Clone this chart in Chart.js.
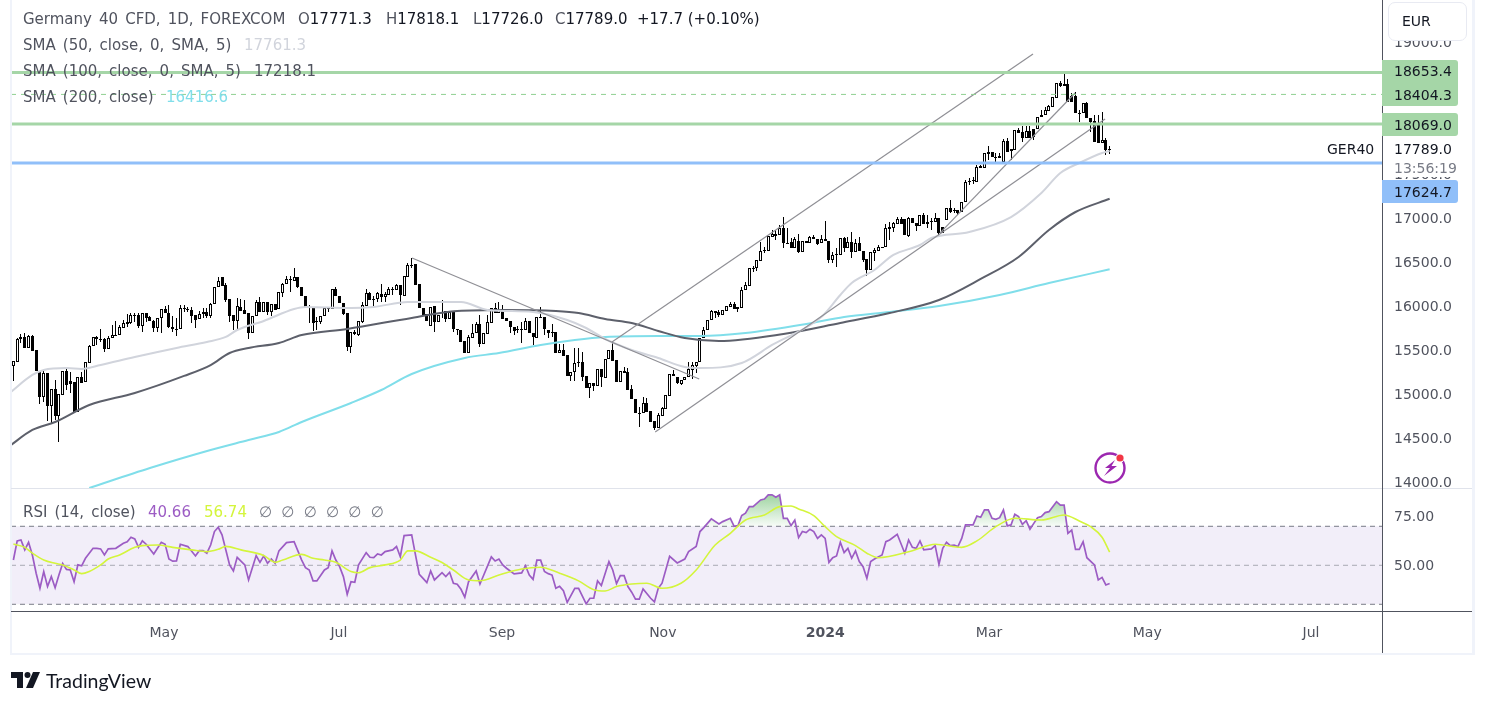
<!DOCTYPE html>
<html>
<head>
<meta charset="utf-8">
<title>Germany 40 CFD</title>
<script src="https://cdn.jsdelivr.net/npm/chart.js@4"></script>
<style>
  html, body { margin: 0; background: #fff; overflow: hidden; }
  #wrap { position: relative; width: 1487px; height: 707px; font-family: "DejaVu Sans", sans-serif; font-size: 15px; color: #50535e; }
  canvas { position: absolute; left: 0; top: 0; }
  .t { position: absolute; white-space: pre; line-height: 20px; }
  .w { word-spacing: 2.3px; }
  .v { color: #131722; }
  .rule { position: absolute; }
  .tag { position: absolute; left: 1382px; width: 76px; border-radius: 0 3px 3px 0; }
  .tagtext { position: absolute; left: 1394px; color: #131722; white-space: pre; line-height: 20px; font-size: 14px; }
</style>
</head>
<body>
<div id="wrap">
  <canvas id="c" width="1487" height="707"></canvas>

  <div class="rule" style="left:10px;top:0;width:2px;height:654px;background:#f0f3fa"></div>
  <div class="rule" style="left:1472px;top:0;width:3px;height:655px;background:#f0f3fa"></div>
  <div class="rule" style="left:10px;top:653px;width:1465px;height:2px;background:#f0f3fa"></div>
  <div class="rule" style="left:11px;top:488px;width:1461px;height:1px;background:#e0e3eb"></div>
  <div class="rule" style="left:11px;top:611px;width:1461px;height:1px;background:#50535e"></div>
  <div class="rule" style="left:1382px;top:0;width:1px;height:653px;background:#50535e"></div>

  <div class="t w" style="left:23px;top:9px">Germany 40 CFD, 1D, FOREXCOM</div>
  <div class="t" style="left:298px;top:9px">O<span class="v">17771.3</span></div>
  <div class="t" style="left:386px;top:9px">H<span class="v">17818.1</span></div>
  <div class="t" style="left:473px;top:9px">L<span class="v">17726.0</span></div>
  <div class="t" style="left:555px;top:9px">C<span class="v">17789.0</span></div>
  <div class="t v" style="left:637px;top:9px">+17.7 (+0.10%)</div>
  <div class="t w" style="left:23px;top:35px">SMA (50, close, 0, SMA, 5)</div>
  <div class="t" style="left:244px;top:35px;color:#d1d4dc">17761.3</div>
  <div class="t w" style="left:23px;top:61px">SMA (100, close, 0, SMA, 5)</div>
  <div class="t" style="left:254px;top:61px">17218.1</div>
  <div class="t w" style="left:23px;top:87px">SMA (200, close)</div>
  <div class="t" style="left:166px;top:87px;color:#80deea">16416.6</div>
  <div class="t w" style="left:23px;top:502px">RSI (14, close)</div>
  <div class="t" style="left:148px;top:502px;color:#9c5cc4">40.66</div>
  <div class="t" style="left:204px;top:502px;color:#d4f53c">56.74</div>
  <div class="t" style="left:259px;top:502px;word-spacing:4.5px;color:#787b86">∅ ∅ ∅ ∅ ∅ ∅</div>

  <div class="t" style="left:1327px;top:139px;color:#131722;font-size:14px">GER40</div>

  <div class="tag" style="top:60px;height:46px;background:#a5d6a7"></div>
  <div class="tagtext" style="top:61px">18653.4</div>
  <div class="tagtext" style="top:85px">18404.3</div>
  <div class="tag" style="top:113px;height:23px;background:#a5d6a7"></div>
  <div class="tagtext" style="top:115px">18069.0</div>
  <div class="rule" style="left:1384px;top:137px;width:86px;height:40px;background:#fff"></div>
  <div class="tagtext" style="top:139px">17789.0</div>
  <div class="tagtext" style="top:158px;color:#787b86">13:56:19</div>
  <div class="tag" style="top:180px;height:23px;background:#90bff9"></div>
  <div class="tagtext" style="top:182px">17624.7</div>

  <div class="rule" style="left:1384px;top:0;width:86px;height:36px;background:#fff"></div>
  <div class="rule" style="left:1388px;top:2px;width:77px;height:37px;background:#fff;border:1px solid #e8eaf2;border-radius:7px"></div>
  <div class="t v" style="left:1402px;top:11px;font-size:14px">EUR</div>

  <svg style="position:absolute;left:1092px;top:450px" width="38" height="36" viewBox="0 0 38 36">
    <circle cx="18" cy="18" r="14.5" fill="none" stroke="#9c27b0" stroke-width="2.4"/>
    <path d="M23 10 L13 18 L18 18 L12 26 L25 16 L19.5 16 Z" fill="#9c27b0"/>
    <circle cx="28" cy="8" r="4.5" fill="#fff"/>
    <circle cx="28" cy="8" r="3.6" fill="#f23645"/>
  </svg>

  <svg style="position:absolute;left:11px;top:672px" width="30" height="17" viewBox="0 0 30 17">
    <path d="M0 0 H12 V16 H6 V6 H0 Z" fill="#131722"/>
    <circle cx="16.5" cy="3" r="3" fill="#131722"/>
    <path d="M22 0 H29 L22 16 H15 Z" fill="#131722"/>
  </svg>
  <div class="t" style="left:46px;top:671px;font-size:19.5px;color:#131722;font-family:Lato,sans-serif">TradingView</div>
</div>

<script>
// price candles, one entry per trading day
const opens = [
  15322,15367,15621,15651,15526,15659,15500,15265,14969,15234,
  14867,15053,14753,14988,15257,15147,15140,14799,15189,15132,
  15356,15541,15644,15621,15625,15511,15632,15666,15670,15753,
  15795,15810,15893,15893,15772,15916,15878,15833,15753,15867,
  15962,15916,15757,15735,15742,15973,15962,15954,15897,15848,
  15905,15928,15890,16019,16212,16325,16238,16079,15897,15829,
  15992,15954,15916,15697,15886,16049,15928,16041,15935,16019,
  15962,16151,16246,16300,16288,16325,16219,16117,15992,15984,
  15825,15822,15886,15970,15966,16189,16113,16038,15916,15537,
  15708,15670,15822,16003,16151,16076,16076,16132,16106,16125,
  16189,16181,16238,16117,16333,16466,16473,16250,15981,15905,
  15776,16000,15822,15935,15943,15848,15935,15734,15727,15606,
  15462,15640,15689,15795,15564,15681,15810,15973,15916,15962,
  15859,15833,15765,15740,15734,15727,15829,15697,15640,15871,
  15878,15727,15700,15708,15469,15500,15443,15204,15253,15356,
  15360,15204,15064,15121,15094,15284,15185,15394,15500,15386,
  15132,15265,15246,15053,14939,14788,14780,14894,14803,14693,
  14617,14753,14830,14981,15223,15189,15113,15155,15189,15273,
  15322,15368,15633,15727,15841,15947,15928,15898,15947,15992,
  16019,15962,15981,16182,16231,16428,16428,16515,16636,16629,
  16788,16799,16803,16883,16720,16731,16663,16739,16618,16735,
  16712,16780,16758,16712,16758,16739,16523,16583,16580,16769,
  16655,16731,16618,16712,16629,16530,16409,16606,16629,16674,
  16674,16902,16890,16932,16989,16989,16799,16996,16940,16913,
  17034,16932,16966,16951,16997,16900,16978,17110,17091,17091,
  17065,17178,17413,17425,17406,17592,17573,17747,17747,17690,
  17686,17641,17876,17762,17773,18001,17982,17906,17989,18008,
  18008,18144,18171,18220,18266,18368,18538,18523,18523,18387,
  18387,18197,18190,18311,18133,18103,18057,17849,17887,17771.3
];
const highs = [
  15375,15632,15681,15689,15670,15665,15500,15265,15265,15240,
  15053,15159,14996,15265,15303,15253,15140,15189,15253,15359,
  15556,15651,15659,15734,15632,15659,15784,15833,15784,15841,
  15909,15916,15916,15916,15916,15916,15886,15840,15867,15962,
  16000,16011,15886,15859,16011,16011,15984,15984,15897,15943,
  15973,15973,16030,16219,16325,16325,16257,16079,15897,16087,
  16079,16068,15916,15886,16068,16106,16041,16041,16019,16019,
  16155,16257,16341,16341,16428,16325,16219,16117,16011,15984,
  15878,15886,15984,15992,16189,16219,16113,16038,15916,15708,
  15727,15829,16049,16189,16160,16113,16162,16246,16162,16219,
  16212,16245,16238,16341,16485,16541,16473,16250,15981,15905,
  15992,16000,15897,16068,15943,15935,15935,15740,15727,15606,
  15670,15795,15822,15897,15689,15897,15973,16030,16041,16011,
  15859,15833,15765,15776,15822,15867,15829,15697,15878,15992,
  15878,15727,15795,15708,15568,15568,15443,15253,15519,15519,
  15481,15204,15121,15121,15284,15284,15394,15500,15583,15386,
  15261,15310,15291,15102,14939,14856,14969,14950,14803,14693,
  14780,14856,14988,15223,15272,15189,15159,15196,15367,15360,
  15368,15633,15765,15841,15955,15947,15955,15955,16000,16049,
  16049,15985,16212,16277,16428,16455,16523,16731,16674,16796,
  16864,16864,16921,17008,16883,16769,16788,16818,16739,16739,
  16796,16807,16758,16807,16966,16739,16618,16655,16769,16788,
  16788,16845,16758,16788,16629,16530,16610,16655,16693,16674,
  16932,16958,16958,17008,17008,16989,17015,16996,16940,17034,
  17061,17034,17004,17053,16997,16900,17110,17205,17110,17091,
  17186,17432,17451,17463,17603,17600,17743,17819,17747,17735,
  17735,17894,17906,17781,18001,18020,18046,18046,18046,18008,
  18144,18228,18258,18285,18372,18531,18561,18637,18576,18417,
  18436,18228,18311,18322,18133,18171,18171,18209,17906,17818.1
];
const lows = [
  15151,15367,15575,15519,15519,15485,15265,14886,14912,14697,
  14659,14704,14458,14988,15045,15007,14799,14799,15128,15132,
  15348,15541,15556,15594,15481,15507,15632,15659,15670,15753,
  15757,15795,15822,15746,15708,15822,15829,15700,15700,15689,
  15916,15746,15708,15662,15742,15935,15935,15803,15753,15848,
  15859,15859,15859,16019,16212,16231,16049,15822,15727,15727,
  15939,15909,15625,15697,15886,15931,15928,15897,15886,15954,
  15962,16106,16246,16162,16288,16200,16117,15992,15803,15719,
  15727,15800,15886,15935,15966,16113,16030,15897,15492,15462,
  15670,15662,15810,16003,16068,15992,16049,16049,16049,16125,
  16125,16181,16011,16117,16333,16428,16238,15973,15897,15833,
  15776,15708,15822,15859,15822,15848,15708,15670,15594,15462,
  15462,15640,15689,15537,15564,15681,15810,15916,15916,15852,
  15833,15689,15670,15689,15583,15727,15697,15556,15640,15860,
  15670,15632,15644,15469,15469,15435,15204,15147,15147,15310,
  15147,15064,14950,15037,15094,15083,15185,15394,15378,15132,
  15132,15242,15045,14939,14780,14628,14780,14791,14685,14590,
  14617,14753,14830,14981,15208,15110,15102,15155,15189,15171,
  15235,15368,15633,15727,15841,15860,15871,15898,15947,15992,
  15962,15928,15981,16182,16231,16390,16402,16515,16598,16629,
  16788,16750,16803,16663,16700,16663,16663,16606,16618,16712,
  16712,16758,16690,16712,16735,16485,16493,16447,16580,16618,
  16655,16542,16618,16629,16504,16341,16409,16515,16629,16660,
  16674,16750,16845,16932,16932,16807,16788,16940,16856,16913,
  16928,16883,16864,16951,16788,16830,16978,17054,17060,17035,
  17065,17178,17375,17387,17406,17573,17573,17660,17690,17641,
  17686,17641,17754,17660,17773,17963,17868,17906,17913,17887,
  18008,18144,18171,18220,18266,18368,18485,18500,18322,18322,
  18190,18095,18190,18133,17982,17868,17849,17849,17716,17726
];
const closes = [
  15375,15625,15644,15526,15659,15492,15265,14969,15234,14867,
  15053,14753,14996,15257,15106,15109,14799,15189,15128,15359,
  15545,15647,15621,15625,15511,15632,15666,15670,15757,15803,
  15818,15897,15897,15772,15916,15867,15829,15753,15867,15962,
  15916,15757,15734,15728,15973,15962,15958,15890,15841,15905,
  15928,15890,16022,16219,16288,16231,16068,15890,15829,16003,
  15939,15909,15697,15886,16049,15931,16041,15928,16019,15954,
  16155,16250,16303,16305,16325,16212,16117,15992,15985,15810,
  15818,15886,15973,15975,16189,16113,16030,15909,15537,15708,
  15678,15829,16011,16144,16068,16072,16144,16106,16132,16189,
  16185,16238,16125,16341,16466,16470,16238,15973,15897,15833,
  15992,15822,15897,15931,15848,15935,15734,15728,15594,15462,
  15644,15689,15795,15564,15689,15822,15973,15916,15954,15852,
  15833,15757,15719,15736,15738,15829,15697,15644,15878,15875,
  15734,15689,15696,15469,15500,15435,15204,15253,15348,15360,
  15189,15064,15121,15094,15284,15189,15394,15500,15378,15132,
  15261,15242,15045,14939,14780,14784,14894,14791,14685,14609,
  14761,14837,14988,15223,15208,15121,15159,15196,15280,15330,
  15368,15633,15727,15841,15943,15924,15898,15955,16000,16019,
  15962,15985,16182,16239,16428,16432,16523,16629,16640,16796,
  16818,16818,16883,16712,16716,16663,16758,16618,16739,16712,
  16780,16758,16705,16758,16735,16523,16576,16587,16769,16663,
  16731,16618,16712,16629,16523,16409,16610,16636,16674,16667,
  16883,16879,16940,16989,16932,16807,16996,16940,16909,17034,
  16928,16958,16970,16996,16826,16830,17110,17072,17087,17054,
  17186,17406,17417,17428,17584,17573,17735,17728,17690,17686,
  17709,17876,17754,17781,18001,17963,17913,17989,17913,17917,
  18144,18171,18228,18273,18372,18531,18500,18500,18322,18322,
  18190,18193,18311,18133,18088,17868,17849,17887,17773,17789
];

// moving averages, bar number + value
const sma50Bars = [-1,5,8,14,18,23,32,43,51,56,59,66,74,77,89,95,104,112,118,125,137,146,151,156,163,170,177,181,192,200,213,218,221,227,232,239,242,252,263,271,276,281,287,289];
const sma50 = [15011,15216,15273,15295,15284,15329,15420,15523,15591,15648,15727,15830,15966,15989,15977,15989,16045,16045,16045,15955,15932,15841,15750,15625,15500,15409,15307,15295,15352,15557,15875,16125,16261,16409,16580,16693,16773,16841,17011,17284,17511,17625,17739,17761.3];
const sma100Bars = [-1,5,11,20,32,45,52,57,62,70,76,88,105,117,130,143,149,156,163,170,177,186,203,218,231,244,255,265,273,280,289];
const sma100 = [14409,14591,14682,14875,15011,15205,15329,15466,15523,15580,15670,15739,15864,15943,15955,15943,15920,15852,15807,15716,15636,15602,15682,15807,15920,16068,16307,16557,16864,17068,17218.1];
const sma200Bars = [20,36,52,62,70,76,89,97,105,119,128,139,148,156,170,181,193,209,219,231,244,260,273,289];
const sma200 = [13932,14159,14364,14477,14568,14682,14898,15045,15227,15409,15466,15557,15614,15648,15659,15659,15693,15795,15875,15932,16000,16125,16261,16416.6];

// RSI pane
const rsiBars = [0,1,2,3,4,5,6,7,8,9,10,11,12,13,14,15,16,17,18,19,21,22,23,24,25,27,29,30,31,32,33,34,35,37,39,40,41,42,43,44,46,48,49,50,51,52,53,54,55,57,58,59,61,62,64,65,66,67,68,69,70,72,74,76,77,78,79,80,82,83,84,85,86,87,88,89,90,91,93,94,95,96,97,98,100,101,102,103,105,106,107,108,109,110,111,113,114,115,116,117,118,119,120,122,123,124,126,127,128,129,130,132,134,135,136,137,138,139,140,141,142,143,144,145,146,148,149,151,152,153,154,155,157,158,159,160,161,162,163,164,165,166,168,169,170,171,173,175,177,178,180,181,182,184,186,187,189,190,191,192,193,194,195,197,198,199,200,201,202,203,204,205,206,207,208,209,210,211,212,213,214,215,216,217,218,219,220,221,222,223,224,225,226,227,229,230,231,233,235,236,237,238,239,240,242,243,244,245,246,247,248,249,250,251,253,254,255,256,257,258,259,260,261,262,263,264,265,266,267,268,269,270,271,272,273,275,276,277,278,279,280,281,282,283,285,286,287,288,289];
const rsi = [52.7,62.5,63,57.9,61.8,55.3,45.9,38.2,46.8,39.1,44.2,38.5,45,50.9,47.9,47.6,41.6,50.2,49.7,53.6,58.7,58.7,58.4,55.3,58.4,58.7,61.3,62.1,64.4,63.5,59.2,62.5,60.8,55.8,61.8,60.8,53.2,52.1,52.2,60.8,59.6,54.8,57.5,57.5,56.2,60.4,67.3,69.5,65.6,50.2,47.1,54.1,50.2,42.5,55,51.5,54.8,51,53.2,51,57.4,61.6,62.1,52.7,48.8,47.6,42,42,47.6,48.8,57.4,52.7,49.3,44.2,35.1,41.6,41.3,50.2,56.5,54.1,53.9,55.8,55.3,57,57.9,59.6,54.4,65.2,65.6,55.3,45.4,43.3,41.1,47.1,42.5,46.2,44.2,46.4,40.8,40.3,37.7,33.6,41.6,47.1,40.4,45,54.3,52.2,53.2,50.2,48.5,45.6,46.1,49.8,45,42.8,52.6,52.6,46.8,45.7,45,38.2,39.2,37,31,38.2,38.2,30.2,33.1,33.1,42,39.6,51.9,47.6,40.6,44.7,44.7,39.1,36.2,32.6,32.6,37.9,33.1,31.2,38.2,40.8,54.6,51.2,53.2,57,59.6,67.3,69.3,73.8,71.2,72.4,74.1,70,70.3,75.5,76.7,80.1,80.1,83.5,84,86.1,86.1,84.9,86.1,74.1,74.1,70.3,73.2,64.2,67.3,66.8,68.5,67.3,63.8,65.6,63.8,51.5,53.9,54.8,61.8,56.5,58.7,53.6,57.4,51.9,49.3,43.3,51.9,53.2,55.3,62.1,63,65.9,56.2,63,59.2,58.7,62.5,57.9,58.4,60.1,50.5,58.7,61.8,60.1,60.4,59.6,63.8,70.7,70.7,75.3,74.6,78.4,78.4,74.1,73.6,74.4,78.4,70.2,70.7,76.2,75,71,72.9,68.5,71.5,74.4,75,77,77.5,82.6,80.9,80.9,66.4,68.1,58.2,58.2,62.1,53.9,50.2,42.5,43.8,39.9,40.66];
const rsiMaBars = [0,3,5,8,11,13,16,18,20,23,25,28,32,34,38,42,47,51,54,56,60,66,69,71,76,79,82,85,89,91,94,98,102,104,106,110,113,116,120,123,128,134,139,144,149,153,156,159,163,167,171,176,180,185,189,193,198,202,205,207,211,214,217,222,225,228,237,243,250,254,259,264,271,277,281,284,287,289];
const rsiMa = [60.9,59.2,56.2,52.7,51,50.2,47.6,45.7,46.8,50.2,53.2,55.3,59.2,60.1,60.4,59.2,57.9,57,58.2,59.7,57.9,55,51.5,52.7,55.6,53.6,52.7,51.5,46.8,46.2,48.8,50.2,52.7,57.4,57.4,54.1,51.4,47.6,42.5,42.1,45,48.1,49,45.9,42,37.5,36.8,39.1,40.4,40.8,38.2,40.8,47.6,60.4,66.4,73.2,75.8,80.1,80.4,78.9,75.5,69.8,64.7,60.1,56.2,53.9,57.5,60.8,59.2,62.5,69.8,74.1,73.2,75.8,72.7,69.8,64.4,56.74];

// horizontal levels and hand drawn lines on the price pane
const solidLevels = [18653.4, 18069.0];
const dashedLevels = [18404.3];
const blueLevels = [17624.7];
const trendBars = [[105.1,180.8],[157.8,268.8],[169.2,287.8],[244.3,279.9]];
const trendPrices = [[16545,15170],[15591,18864],[14568,18125],[16830,18420]];

// axis ticks
const timeTickBars = [39.7,85.8,128.8,171.2,214,257.2,298.9,342.1];
const timeTickText = ['May','Jul','Sep','Nov','2024','Mar','May','Jul'];
const priceTicks = [14000,14500,15000,15500,16000,16500,17000,17500,18000,18500,19000];
const rsiTicks = [50,75];

const firstSlot = -0.63, lastSlot = 360.8;
const zip = (xs, ys) => xs.map((x, i) => ({ x, y: ys[i] }));
const level = v => [{ x: firstSlot, y: v }, { x: lastSlot, y: v }];
const line = (data, color, width, order, extra) => Object.assign({
  type: 'line', data, borderColor: color, borderWidth: width, pointRadius: 0,
  tension: 0, fill: false, order, yAxisID: 'y'
}, extra || {});
const smooth = { cubicInterpolationMode: 'monotone' };

const canvas = document.getElementById('c');
const ctx = canvas.getContext('2d');
const overbought = ctx.createLinearGradient(0, 494, 0, 527);
overbought.addColorStop(0, 'rgba(76,175,80,0.55)');
overbought.addColorStop(1, 'rgba(76,175,80,0.03)');

const datasets = [
  // candles
  { type: 'bar', grouped: false, yAxisID: 'y', order: 5, barThickness: 3, borderWidth: 1, borderColor: '#000',
    borderSkipped: false, inflateAmount: 0,
    backgroundColor: opens.map((o, i) => closes[i] >= o ? '#fff' : '#000'),
    data: opens.map((o, i) => ({ x: i, y: [o, closes[i]] })) },
  { type: 'bar', grouped: false, yAxisID: 'y', order: 6, barThickness: 1, borderWidth: 0, backgroundColor: '#000', inflateAmount: 0,
    data: lows.map((l, i) => ({ x: i, y: [l, highs[i]] })) },
  // moving averages
  line(zip(sma50Bars, sma50), '#d1d4dc', 2, 4, smooth),
  line(zip(sma100Bars, sma100), '#5d606b', 2, 4, smooth),
  line(zip(sma200Bars, sma200), '#80deea', 2, 4, smooth),
  // levels
  ...solidLevels.map(v => line(level(v), '#a5d6a7', 3, 1)),
  ...dashedLevels.map(v => line(level(v), '#8fd092', 1, 1, { borderDash: [5, 5] })),
  ...blueLevels.map(v => line(level(v), '#90bff9', 3, 1)),
  // trend lines
  ...trendBars.map((b, i) => line(zip(b, trendPrices[i]), '#8f8f95', 1.2, 2)),
  // RSI pane
  line(level(70), '#787b86', 1, 13, { yAxisID: 'y2', borderDash: [5, 4],
    fill: { target: { value: 30 }, above: 'rgba(126,87,194,0.1)' } }),
  line(level(30), '#787b86', 1, 12, { yAxisID: 'y2', borderDash: [5, 4] }),
  line(level(50), 'rgba(120,123,134,0.6)', 1, 12, { yAxisID: 'y2', borderDash: [5, 4] }),
  line(zip(rsiBars, rsi), '#9c5cc4', 1.7, 10, { yAxisID: 'y2',
    fill: { target: { value: 70 }, above: overbought, below: 'rgba(0,0,0,0)' } }),
  line(zip(rsiMaBars, rsiMa), '#d4f53c', 1.6, 9, { yAxisID: 'y2', ...smooth })
];

// keep the candles on whole pixels, the original does not blur them
const crispBars = {
  id: 'crispBars',
  beforeDatasetsDraw(chart) {
    chart.getSortedVisibleDatasetMetas().forEach(meta => {
      if (meta.type !== 'bar') return;
      meta.data.forEach(el => {
        el.x = Math.floor(el.x) + 0.5;
        el.y = Math.round(el.y);
        el.base = Math.round(el.base);
        if (el.base === el.y) el.base = el.y + 1; // dojis still show a dash
      });
    });
  }
};

new Chart(ctx, {
  data: { datasets },
  plugins: [crispBars],
  options: {
    responsive: false,
    animation: false,
    events: [],
    layout: { autoPadding: false, padding: { left: 11, top: 0, right: 15, bottom: 54 } },
    plugins: { legend: { display: false }, tooltip: { enabled: false } },
    scales: {
      x: {
        type: 'linear', offset: false, min: firstSlot, max: lastSlot, bounds: 'data',
        grid: { display: false, offset: false }, border: { display: false },
        afterBuildTicks(s) { s.ticks = timeTickBars.map(value => ({ value })); },
        afterFit(s) { s.height = 42; },
        ticks: {
          autoSkip: false, maxRotation: 0, padding: 6, color: '#50535e',
          font: c => ({ family: 'DejaVu Sans', size: 14, weight: c.tick && c.tick.value === 214 ? 'bold' : 'normal' }),
          callback: v => timeTickText[timeTickBars.indexOf(v)]
        }
      },
      y: {
        type: 'linear', position: 'right', stack: 'panes', stackWeight: 489,
        min: 13892, max: 19336.4, bounds: 'data',
        grid: { display: false }, border: { display: false },
        afterBuildTicks(s) { s.ticks = priceTicks.map(value => ({ value })); },
        afterFit(s) { s.width = 90; },
        ticks: { autoSkip: false, padding: 4, labelOffset: 1, color: '#50535e', font: { family: 'DejaVu Sans', size: 14 }, callback: v => v.toFixed(1) }
      },
      y2: {
        type: 'linear', position: 'right', stack: 'panes', stackWeight: 122,
        min: 26.56, max: 87.85, bounds: 'data',
        grid: { display: false }, border: { display: false },
        afterBuildTicks(s) { s.ticks = rsiTicks.map(value => ({ value })); },
        afterFit(s) { s.width = 90; },
        ticks: { autoSkip: false, padding: 4, labelOffset: 1, color: '#50535e', font: { family: 'DejaVu Sans', size: 14 }, callback: v => v.toFixed(2) }
      }
    }
  }
});
</script>
</body>
</html>
